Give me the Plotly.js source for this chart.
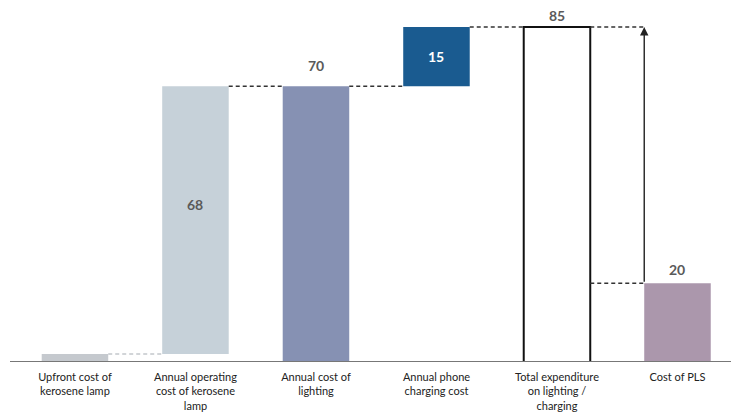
<!DOCTYPE html>
<html>
<head>
<meta charset="utf-8">
<script src="https://cdn.plot.ly/plotly-3.0.1.min.js"></script>
<style>
  html, body { margin: 0; padding: 0; background: #ffffff; }
  #chart { width: 731px; height: 414px; }
</style>
</head>
<body>
<div id="chart"></div>
<script>
// Cost build-up: kerosene lamp + phone charging vs. cost of a PLS
const categories = [
  "Upfront cost of<br>kerosene lamp",
  "Annual operating<br>cost of kerosene<br>lamp",
  "Annual cost of<br>lighting",
  "Annual phone<br>charging cost",
  "Total expenditure<br>on lighting /<br>charging",
  "Cost of PLS"
];
const values = [2, 68, 70, 15, 85, 20];
const bases  = [0, 2, 0, 70, 0, 0];
const shownLabels = ["", "68", "70", "15", "85", "20"];

// styling
const barColors = ["#c5c9ce", "#c6d1d9", "#8691b3", "#1a5b90", "#ffffff", "#ab97ac"];
const lineWidths = [0, 0, 0, 0, 2, 0];
const labelInside = [false, true, false, true, false, false];
const labelShift = [0, 0, 21, 0, 12, 14];
const labelColors = ["#5a5a5a", "#5a5a5a", "#5a5a5a", "#ffffff", "#5a5a5a", "#5a5a5a"];
const BAR_W = 0.552;
const NUM_FONT = "Lato, 'Open Sans', sans-serif";
const TICK_FONT = "Lato, 'Open Sans', sans-serif";

const idx = categories.map((_, i) => i);
const tops = values.map((v, i) => v + bases[i]);

const trace = {
  type: "bar",
  x: idx,
  y: values,
  base: bases,
  width: BAR_W,
  marker: {
    color: barColors,
    line: { color: "#111111", width: lineWidths }
  },
  hoverinfo: "skip"
};

const annotations = [];
idx.forEach(i => {
  if (!shownLabels[i]) return;
  const inside = labelInside[i];
  annotations.push({
    x: i,
    y: inside ? bases[i] + values[i] * (i === 1 ? 0.56 : 0.5) : tops[i],
    yshift: inside ? 0 : labelShift[i],
    text: shownLabels[i],
    showarrow: false, xanchor: "center", yanchor: "middle",
    font: { family: NUM_FONT, size: 14, weight: 700, color: labelColors[i] }
  });
});

// arrow from the PLS cost up to total expenditure
const arrowX = 5 - BAR_W / 2;
annotations.push({
  x: arrowX, y: tops[4], ax: arrowX, ay: tops[5],
  xref: "x", yref: "y", axref: "x", ayref: "y",
  text: "", showarrow: true, arrowhead: 2, arrowsize: 1.2,
  arrowwidth: 1.4, arrowcolor: "#222222", standoff: 0, startstandoff: 0
});

// dashed connectors between bars
const dash = (x0, x1, y, color) => ({
  type: "line", xref: "x", yref: "y",
  x0: x0, x1: x1, y0: y, y1: y,
  line: { color: color, width: 1.5, dash: "4px,3px" }
});
const h = BAR_W / 2;
const shapes = [
  dash(0 + h, 1 - h, tops[0], "#c4c8cc"),
  dash(1 + h, 2 - h, tops[1], "#333333"),
  dash(2 + h, 3 - h, tops[2], "#333333"),
  dash(3 + h, 4 - h, tops[3], "#333333"),
  dash(4 + h, arrowX, tops[4], "#333333"),
  dash(4 + h, arrowX, tops[5], "#333333"),
  {
    type: "line", xref: "paper", yref: "y",
    x0: 10 / 731, x1: 1, y0: 0, y1: 0,
    line: { color: "#777777", width: 2 }
  }
];

const layout = {
  width: 731, height: 414,
  margin: { l: 0, r: 0, t: 7, b: 52 },
  paper_bgcolor: "#ffffff", plot_bgcolor: "#ffffff",
  showlegend: false,
  xaxis: {
    range: [-0.622, 5.444],
    tickvals: idx, ticktext: categories,
    showgrid: false, zeroline: false, showline: false,
    ticks: "", ticklabelstandoff: 7,
    tickfont: { family: TICK_FONT, size: 11, color: "#222222" },
    fixedrange: true
  },
  yaxis: {
    range: [0, 90.08],
    visible: false, showgrid: false, zeroline: false,
    fixedrange: true
  },
  shapes: shapes,
  annotations: annotations
};

Plotly.newPlot("chart", [trace], layout, { displayModeBar: false, staticPlot: true });
</script>
</body>
</html>
